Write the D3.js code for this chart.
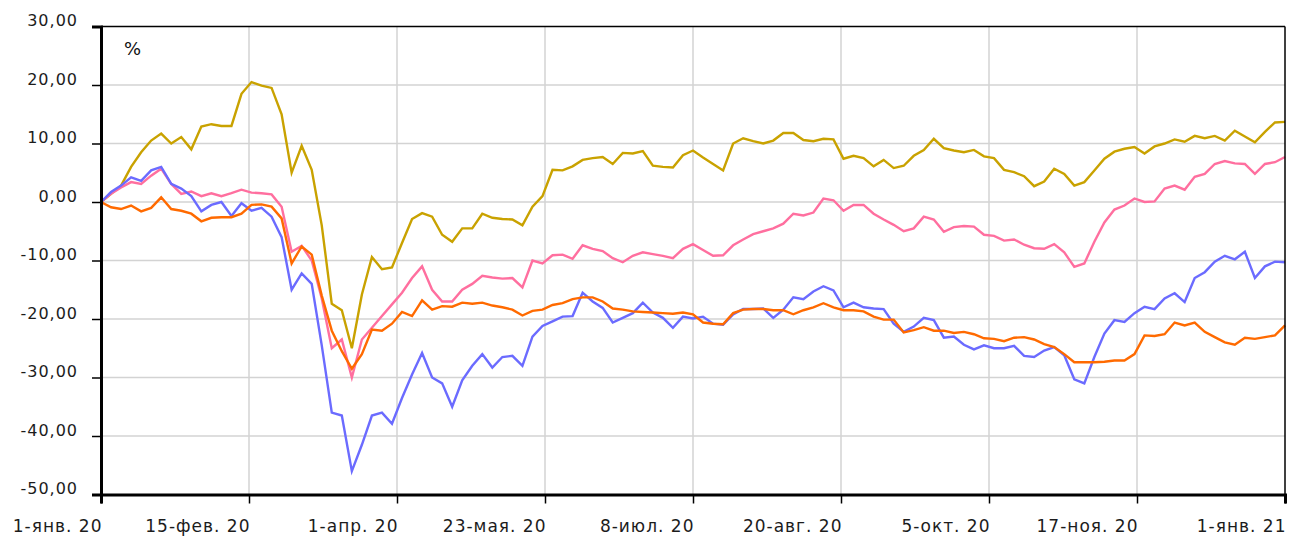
<!DOCTYPE html>
<html><head><meta charset="utf-8">
<script src="https://cdn.jsdelivr.net/npm/d3@7"></script>
<style>
html,body{margin:0;padding:0;background:#fff;}
svg text{font-family:"DejaVu Sans",Verdana,sans-serif;}
</style></head>
<body>
<svg id="c" width="1293" height="536"></svg>
<script>
const yTicks = [30, 20, 10, 0, -10, -20, -30, -40, -50];
const xLabels = ["1-янв. 20","15-фев. 20","1-апр. 20","23-мая. 20","8-июл. 20","20-авг. 20","5-окт. 20","17-ноя. 20","1-янв. 21"];
const unitLabel = "%";

const gold = [0,1.4,2.8,6.0,8.5,10.5,11.7,10.0,11.1,9.0,12.9,13.3,13.0,13.0,18.5,20.5,19.9,19.5,15.0,5.0,
9.6,5.5,-4,-17.4,-18.5,-25,-15.8,-9.4,-11.5,-11.2,-7,-2.9,-1.9,-2.5,-5.6,-6.8,-4.5,-4.5,-2,-2.7,
-2.9,-3,-4,-0.8,1.0,5.5,5.4,6.1,7.2,7.5,7.7,6.5,8.4,8.3,8.7,6.2,6.0,5.9,8.0,8.8,
7.6,6.5,5.4,10,10.9,10.4,10.0,10.5,11.8,11.8,10.6,10.4,10.8,10.7,7.4,7.9,7.5,6.1,7.2,5.8,
6.2,7.9,8.9,10.8,9.2,8.8,8.5,8.9,7.8,7.5,5.5,5.1,4.4,2.7,3.5,5.7,4.8,2.8,3.4,5.4,
7.4,8.6,9.1,9.4,8.3,9.5,10.0,10.7,10.3,11.3,10.9,11.3,10.5,12.2,11.2,10.2,12.0,13.6,13.7];

const pink = [0,1.4,2.5,3.4,3.1,4.5,5.7,3.1,1.4,1.8,1.0,1.5,1.0,1.5,2.1,1.6,1.5,1.3,-0.8,-8.5,
-7.5,-10,-16.5,-25,-23.5,-30,-23.5,-21.5,-19.5,-17.5,-15.5,-13,-11,-15,-17,-17,-15,-14,-12.6,-12.9,
-13.1,-13,-14.6,-10,-10.5,-9.1,-9,-9.7,-7.4,-8,-8.4,-9.6,-10.3,-9.2,-8.6,-8.9,-9.2,-9.6,-8,-7.2,
-8.2,-9.2,-9.1,-7.4,-6.4,-5.5,-5,-4.5,-3.7,-2,-2.3,-1.8,0.6,0.3,-1.5,-0.5,-0.5,-2,-3,-3.9,
-5,-4.5,-2.5,-3.0,-5.1,-4.3,-4.1,-4.2,-5.6,-5.8,-6.6,-6.4,-7.3,-7.9,-8,-7.2,-8.6,-11.1,-10.5,-6.8,
-3.5,-1.3,-0.6,0.6,0,0.1,2.3,2.8,2.1,4.3,4.8,6.5,7,6.6,6.5,4.8,6.5,6.8,7.7];

const blue = [0,1.7,2.8,4.2,3.6,5.4,6.0,3.1,2.3,1.0,-1.6,-0.5,0.0,-2.4,-0.2,-1.5,-1.0,-2.5,-6.0,-15,
-12.2,-14,-24.5,-36,-36.5,-46,-41.5,-36.5,-36,-37.9,-33.5,-29.5,-25.8,-30,-31,-35,-30.5,-28,-26,-28.3,
-26.5,-26.3,-28,-23,-21.2,-20.4,-19.6,-19.5,-15.5,-17,-18.1,-20.6,-19.8,-19,-17.2,-18.9,-19.8,-21.5,-19.6,-19.9,
-19.6,-20.8,-21,-19.2,-18.3,-18.3,-18.2,-19.8,-18.4,-16.3,-16.6,-15.3,-14.4,-15.1,-18,-17.2,-18,-18.2,-18.3,-20.8,
-22.2,-21.3,-19.8,-20.2,-23.2,-23,-24.4,-25.2,-24.5,-25,-25,-24.6,-26.3,-26.5,-25.4,-24.8,-26.2,-30.3,-31,-26.5,
-22.5,-20.2,-20.5,-19.0,-17.9,-18.3,-16.5,-15.6,-17.1,-13,-12,-10.2,-9.2,-9.8,-8.5,-13,-11,-10.2,-10.3];

const orange = [0,-0.9,-1.2,-0.6,-1.6,-1.0,0.8,-1.2,-1.5,-2,-3.3,-2.7,-2.6,-2.6,-2.0,-0.5,-0.4,-0.8,-2.8,-10.5,
-7.6,-9,-16,-22,-25.5,-28.5,-26,-21.8,-22,-20.8,-18.8,-19.5,-16.8,-18.4,-17.8,-17.9,-17.2,-17.4,-17.2,-17.7,
-18,-18.4,-19.4,-18.6,-18.4,-17.6,-17.3,-16.6,-16.3,-16.3,-17.0,-18.2,-18.4,-18.7,-18.8,-18.9,-19,-19.1,-18.9,-19.2,
-20.6,-20.8,-20.9,-19,-18.4,-18.3,-18.3,-18.5,-18.5,-19.2,-18.5,-18,-17.3,-18,-18.5,-18.5,-18.7,-19.6,-20.1,-20.1,
-22.3,-21.9,-21.4,-22,-22,-22.4,-22.2,-22.6,-23.3,-23.4,-23.8,-23.2,-23.1,-23.5,-24.3,-24.8,-26,-27.4,-27.4,-27.4,
-27.3,-27.1,-27.1,-26,-22.8,-22.9,-22.6,-20.6,-21.1,-20.6,-22.2,-23.1,-24,-24.4,-23.2,-23.4,-23.1,-22.8,-21.1];

const seriesColors = ["#c9a200", "#ff6f9f", "#6b6bff", "#ff6a00"];
const seriesList = [gold, pink, blue, orange];

const svg = d3.select("#c");
const L = 101, R = 1285, T = 26.5, B = 494.5;
const n = gold.length;
const x = d3.scaleLinear().domain([0, n - 1]).range([L, R]);
const y = d3.scaleLinear().domain([-50, 30]).range([B, T]);
const xTickVals = xLabels.map((d, i) => i * (n - 1) / (xLabels.length - 1));

// grid
svg.append("g").selectAll("line").data(yTicks.filter(v => v > -50 && v < 30)).join("line")
  .attr("x1", L).attr("x2", R).attr("y1", d => y(d)).attr("y2", d => y(d))
  .attr("stroke", "#d3d3d3").attr("stroke-width", 1.5);
svg.append("g").selectAll("line").data(xTickVals.slice(1, -1)).join("line")
  .attr("x1", d => x(d)).attr("x2", d => x(d)).attr("y1", T).attr("y2", B)
  .attr("stroke", "#d3d3d3").attr("stroke-width", 1.5);

// lines
const line = d3.line().x((d, i) => x(i)).y(d => y(d));
seriesList.forEach((s, k) => {
  svg.append("path").datum(s).attr("d", line).attr("fill", "none")
    .attr("stroke", seriesColors[k]).attr("stroke-width", 2.4).attr("stroke-linejoin", "miter");
});

// frame top/right
svg.append("line").attr("x1", L).attr("x2", R).attr("y1", T).attr("y2", T).attr("stroke", "#000").attr("stroke-width", 1.5);
svg.append("line").attr("x1", R).attr("x2", R).attr("y1", T).attr("y2", B).attr("stroke", "#000").attr("stroke-width", 1.5);

// y axis
const yAxis = svg.append("g").attr("transform", `translate(${L},0)`)
  .call(d3.axisLeft(y).tickValues(yTicks).tickSize(9).tickPadding(14)
    .tickFormat(d => d.toFixed(2).replace(".", ",")));
yAxis.select(".domain").attr("stroke", "#000").attr("stroke-width", 3);
yAxis.selectAll(".tick line").attr("stroke", "#000").attr("stroke-width", 1.5);
yAxis.selectAll(".tick text").attr("font-size", 16).attr("fill", "#1c1c1c").attr("dy", "-0.05em")
  .attr("letter-spacing", "1px")
  .attr("font-family", "'DejaVu Sans', sans-serif");

// x axis
const xAxis = svg.append("g").attr("transform", `translate(0,${B})`)
  .call(d3.axisBottom(x).tickValues(xTickVals).tickSize(9).tickPadding(16)
    .tickFormat((d, i) => xLabels[i]));
xAxis.select(".domain").attr("stroke", "#000").attr("stroke-width", 3);
xAxis.selectAll(".tick line").attr("stroke", "#000").attr("stroke-width", 1.5);
xAxis.selectAll(".tick text").attr("font-size", 17).attr("fill", "#1c1c1c")
  .attr("text-anchor", "end").attr("x", 1).attr("letter-spacing", "1px")
  .attr("font-family", "'DejaVu Sans', sans-serif");

svg.append("text").attr("x", 124).attr("y", 55).attr("font-size", 18).attr("fill", "#111").text(unitLabel);
</script>
</body></html>
